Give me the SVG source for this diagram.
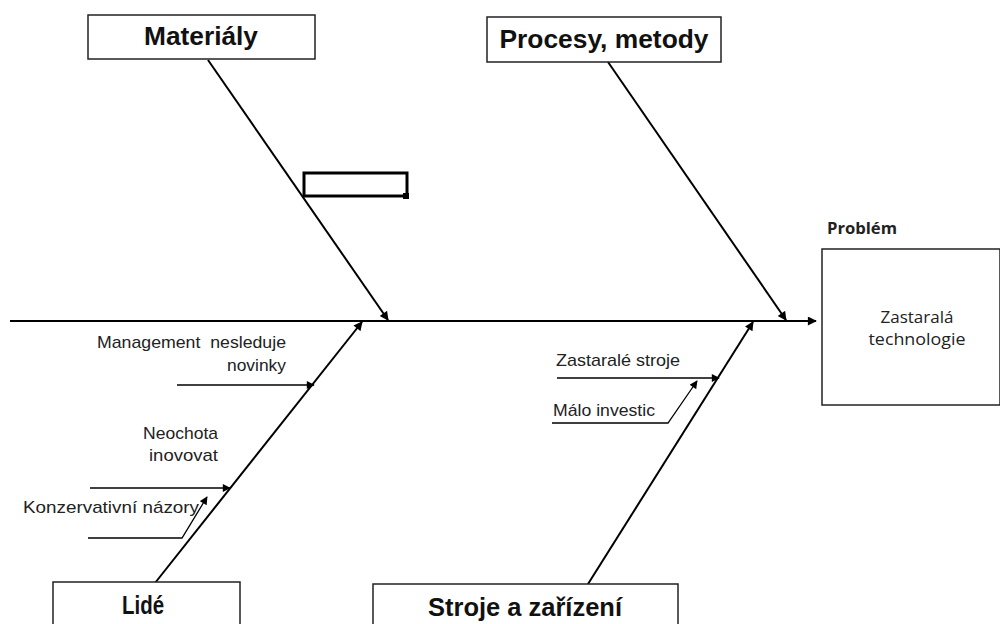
<svg xmlns="http://www.w3.org/2000/svg" width="1000" height="624" viewBox="0 0 1000 624">
<style>
.box{fill:#fff;stroke:#222;stroke-width:1.5}
.ln{fill:none;stroke:#000;stroke-width:2}
.thin{fill:none;stroke:#000;stroke-width:1.3}
.ttl{font-family:"Liberation Sans",Arial,sans-serif;font-weight:bold;font-size:25px;fill:#111;text-anchor:middle}
.lbl{font-family:"Liberation Sans",Arial,sans-serif;font-size:17px;fill:#222}
.cal{font-family:"Open Sans","Noto Sans",sans-serif;fill:#222}
</style>
<defs>
<marker id="ah" viewBox="0 0 10 10" refX="9" refY="5" markerWidth="10" markerHeight="9" markerUnits="userSpaceOnUse" orient="auto">
<path d="M0,0 L10,5 L0,10 Z" fill="#000"/>
</marker>
<marker id="ahs" viewBox="0 0 10 10" refX="9" refY="5" markerWidth="9" markerHeight="8" markerUnits="userSpaceOnUse" orient="auto">
<path d="M0,0 L10,5 L0,10 Z" fill="#000"/>
</marker>
</defs>
<rect width="1000" height="624" fill="#fff"/>
<g id="connectors">
<line class="ln" x1="10" y1="321" x2="816" y2="321" marker-end="url(#ah)"/>
<line class="ln" x1="208" y1="60" x2="388" y2="320" marker-end="url(#ah)"/>
<line class="ln" x1="608" y1="62" x2="786" y2="320" marker-end="url(#ah)"/>
<line class="ln" x1="155" y1="583" x2="362" y2="322" marker-end="url(#ah)"/>
<line class="ln" x1="588" y1="584" x2="753" y2="322" marker-end="url(#ah)"/>
<line class="thin" x1="177" y1="385" x2="314" y2="385" marker-end="url(#ahs)"/>
<line class="thin" x1="90" y1="488" x2="230" y2="488" marker-end="url(#ahs)"/>
<polyline class="thin" points="88,538 182,538 207,497" marker-end="url(#ahs)"/>
<line class="thin" x1="557" y1="378" x2="719" y2="378" marker-end="url(#ahs)"/>
<polyline class="thin" points="552,423 668,423 697,381" marker-end="url(#ahs)"/>
</g>
<g id="materialy">
<rect class="box" x="88" y="15" width="227" height="44"/>
<text class="ttl" x="201" y="45" textLength="114" lengthAdjust="spacingAndGlyphs">Materiály</text>
</g>
<g id="procesy">
<rect class="box" x="487" y="17" width="234" height="45"/>
<text class="ttl" x="604" y="48" textLength="209" lengthAdjust="spacingAndGlyphs">Procesy, metody</text>
</g>
<g id="lide">
<rect class="box" x="53" y="582" width="187" height="50"/>
<text class="ttl" x="143" y="614" textLength="42" lengthAdjust="spacingAndGlyphs">Lidé</text>
</g>
<g id="stroje">
<rect class="box" x="373" y="584" width="305" height="50"/>
<text class="ttl" x="525" y="616" textLength="194" lengthAdjust="spacingAndGlyphs">Stroje a zařízení</text>
</g>
<g id="empty-box">
<rect x="304" y="173" width="103" height="23" fill="none" stroke="#000" stroke-width="3"/>
<rect x="403" y="193" width="6" height="6" fill="#000"/>
</g>
<g id="problem">
<text class="cal" x="827" y="234" font-size="16" font-weight="bold" textLength="70" lengthAdjust="spacingAndGlyphs">Problém</text>
<rect class="box" x="822" y="249" width="178" height="156"/>
<text class="cal" x="917" y="323" font-size="17" text-anchor="middle" textLength="73" lengthAdjust="spacingAndGlyphs">Zastaralá</text>
<text class="cal" x="917" y="345" font-size="17" text-anchor="middle" textLength="97" lengthAdjust="spacingAndGlyphs">technologie</text>
</g>
<g id="lide-causes">
<text class="lbl" x="286" y="348" text-anchor="end" xml:space="preserve" textLength="189" lengthAdjust="spacingAndGlyphs">Management  nesleduje</text>
<text class="lbl" x="286" y="371" text-anchor="end" textLength="59" lengthAdjust="spacingAndGlyphs">novinky</text>
<text class="lbl" x="218" y="439" text-anchor="end" textLength="75" lengthAdjust="spacingAndGlyphs">Neochota</text>
<text class="lbl" x="218" y="461" text-anchor="end" textLength="69" lengthAdjust="spacingAndGlyphs">inovovat</text>
<text class="lbl" x="23" y="513" textLength="176" lengthAdjust="spacingAndGlyphs">Konzervativní názory</text>
</g>
<g id="stroje-causes">
<text class="lbl" x="556" y="366" textLength="124" lengthAdjust="spacingAndGlyphs">Zastaralé stroje</text>
<text class="lbl" x="553" y="416" textLength="102" lengthAdjust="spacingAndGlyphs">Málo investic</text>
</g>
</svg>
